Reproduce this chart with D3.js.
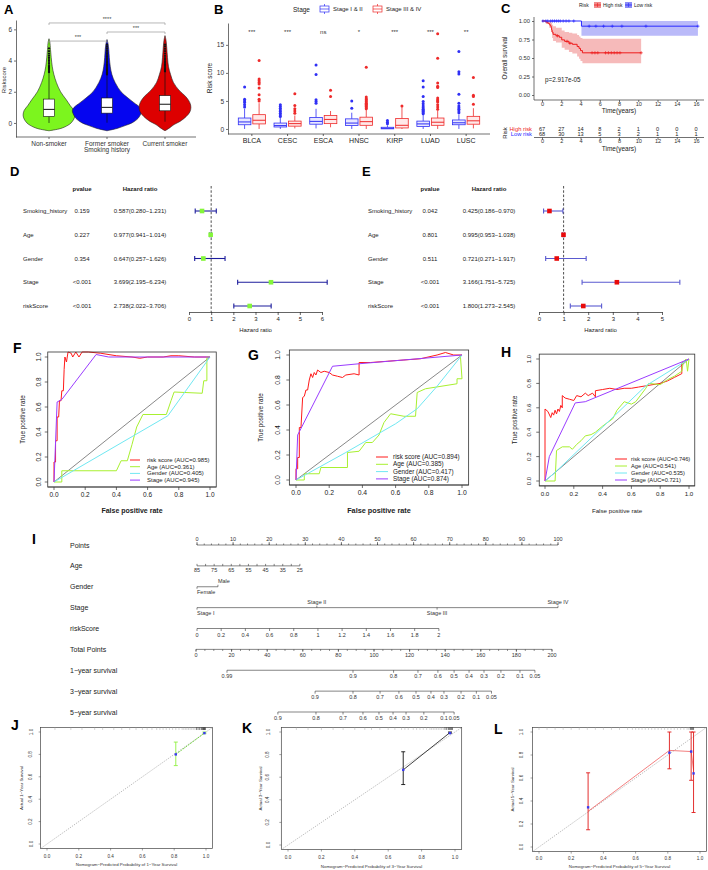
<!DOCTYPE html>
<html><head><meta charset="utf-8">
<script src="https://cdn.jsdelivr.net/npm/d3@7/dist/d3.min.js"></script>
<style>html,body{margin:0;padding:0;background:#fff}svg{display:block;font-family:"Liberation Sans",Arial,Helvetica,sans-serif}</style>
</head><body>
<svg id="fig" width="708" height="870"></svg>
<script>
// ======================= DATA =======================
// ---- A: risk score by smoking history ----
const smokingGroups = ["Non-smoker", "Former smoker", "Current smoker"];
const smokingDensity = [
  [[-0.5,0],[-0.35,0.34],[-0.15,0.54],[0,0.63],[0.25,0.71],[0.5,0.74],[0.8,0.71],[1.1,0.61],[1.5,0.49],[2.0,0.33],[2.6,0.21],[3.1,0.14],[3.6,0.094],[4.2,0.063],[4.7,0.043],[5.2,0.023],[5.4,0]],
  [[-0.5,0],[-0.35,0.29],[-0.15,0.54],[0,0.71],[0.3,0.89],[0.6,0.97],[0.8,0.99],[1.0,0.94],[1.3,0.77],[1.6,0.6],[2.0,0.4],[2.6,0.23],[3.1,0.14],[3.6,0.094],[4.2,0.066],[4.7,0.051],[5.1,0.029],[5.35,0]],
  [[-0.5,0],[-0.3,0.14],[-0.1,0.26],[0.1,0.43],[0.4,0.6],[0.7,0.71],[1.0,0.74],[1.3,0.71],[1.7,0.59],[2.1,0.4],[2.6,0.24],[3.1,0.16],[3.6,0.1],[4.2,0.071],[4.8,0.051],[5.3,0.029],[5.6,0]]
];
const smokingBox = [[0.0,0.42,0.87,1.53,3.2],[0.02,0.63,1.0,1.6,3.05],[0.08,0.78,1.2,1.75,3.25]];
const smokingOutliers = [
  [3.25,3.32,3.4,3.48,3.55,3.62,3.7,3.8,3.9,4.0,4.1,4.2,4.32,4.45,4.6,4.78],
  [3.1,3.15,3.2,3.25,3.3,3.36,3.42,3.5,3.58,3.66,3.75,3.85,3.95,4.05,4.15,4.25,4.35,4.45,4.55,4.65,4.78,4.9,5.02],
  [3.3,3.35,3.42,3.5,3.58,3.66,3.75,3.85,3.95,4.05,4.15,4.3,4.45,4.6,4.75,4.9,5.02]
];
const smokingComparisons = [[0,1,"***",5.25],[1,2,"***",5.83],[0,2,"****",6.41]];
const riskTicksA = [0,2,4,6];

// ---- B: risk score by stage in cancers ----
const cancerTypes = ["BLCA","CESC","ESCA","HNSC","KIRP","LUAD","LUSC"];
const stageLevels = ["Stage I & II","Stage III & IV"];
const stageEarlyBox = [[0,0.75,1.25,1.95,3.6],[0,0.35,0.6,1.05,2.0],[0.1,0.85,1.35,2.05,3.6],[0,0.6,1.05,1.8,2.9],[0,0.02,0.12,0.3,0.65],[0,0.45,0.9,1.4,2.5],[0,0.75,1.1,1.6,2.6]];
const stageLateBox  = [[0,0.9,1.55,2.55,4.6],[0.1,0.5,0.95,1.4,2.4],[0.3,0.95,1.7,2.4,3.2],[0,0.65,1.3,2.1,3.4],[0,0.18,0.65,1.85,3.9],[0,0.65,1.2,1.95,3.3],[0.1,0.85,1.45,2.25,3.7]];
const stageEarlyOut = [[3.9,4.3,4.7,5.0,5.3,7.5],[2.2,2.5,2.8,3.1,3.4,3.7,4.0,4.3],[4.6,4.9,5.2,9.7,11.4],[3.7,5.0],[0.95,1.2,1.5],[2.7,2.9,3.1,3.3,3.5,3.8,4.1,4.5,4.9,5.8,7.5,8.6],[2.9,3.2,3.5,3.8,4.1,4.6,6.2,9.8,10.2,13.8]];
const stageLateOut  = [[5.0,5.3,6.1,7.3,8.0,8.3,8.6,8.9,12.2],[2.8,3.2,3.6,4.2,6.3],[5.8,6.9],[3.6,3.8,4.0,4.2,4.4,4.6,4.8,5.0,5.2,5.4,5.7,11.0],[4.1],[3.5,3.9,4.3,4.8,5.0,5.2,5.5,7.4,7.6,8.2,12.6,17.0],[4.4,5.8,6.0,9.2]];
const stageSig = ["***","***","ns","*","***","***","**"];
const riskTicksB = [0,5,10,15];

// ---- C: Kaplan-Meier ----
const riskGroups = ["High risk","Low risk"];
const highRiskKM = [[0,1],[0.4,0.985],[0.6,0.97],[0.75,0.955],[0.85,0.935],[0.95,0.91],[1.0,0.88],[1.05,0.85],[1.15,0.82],[1.45,0.80],[1.8,0.78],[2.05,0.745],[2.35,0.725],[2.8,0.70],[3.15,0.685],[3.65,0.655],[3.85,0.63],[4.0,0.60],[4.2,0.57],[10.3,0.57]];
const highRiskCI = [[0,1,1],[0.4,0.96,1],[0.75,0.91,1],[0.95,0.85,0.98],[1.05,0.77,0.95],[1.15,0.73,0.93],[1.45,0.71,0.91],[2.05,0.64,0.87],[2.35,0.61,0.85],[2.8,0.58,0.84],[3.15,0.56,0.83],[3.65,0.52,0.81],[3.85,0.49,0.79],[4.0,0.46,0.77],[4.2,0.43,0.76],[10.3,0.43,0.76]];
const lowRiskKM = [[0,1],[4.1,0.93],[16.2,0.93]];
const lowRiskCI = [[0,1,1],[4.1,0.80,1.0],[16.2,0.80,1.0]];
const highRiskCensor = [[1.6,0.80],[2.6,0.725],[2.9,0.70],[5.2,0.57],[5.5,0.57],[5.8,0.57],[6.6,0.57],[6.9,0.57],[7.2,0.57],[7.5,0.57],[7.8,0.57],[8.1,0.57],[10.3,0.57]];
const lowRiskCensor = [[0.1,1],[0.4,1],[0.6,1],[0.9,1],[1.1,1],[1.3,1],[1.5,1],[1.7,1],[1.9,1],[2.2,1],[2.5,1],[2.8,1],[3.3,1],[4.9,0.93],[5.6,0.93],[6.4,0.93],[7.3,0.93],[8.3,0.93],[10.8,0.93],[16.2,0.93]];
const timeTicks = [0,2,4,6,8,10,12,14,16];
const survTicks = [0,0.25,0.5,0.75,1];
const highRiskAtRisk = [67,27,14,8,2,1,0,0,0];
const lowRiskAtRisk  = [68,30,13,5,3,2,1,1,1];
const kmPvalue = "p=2.917e-05";

// ---- D/E: Cox forest plots ----
const coxVars = ["Smoking_history","Age","Gender","Stage","riskScore"];
const uniP = ["0.159","0.227","0.354","<0.001","<0.001"];
const uniHR = [0.587,0.977,0.647,3.699,2.738];
const uniLo = [0.280,0.941,0.257,2.195,2.022];
const uniHi = [1.231,1.014,1.626,6.234,3.706];
const multiP = ["0.042","0.801","0.511","<0.001","<0.001"];
const multiHR = [0.425,0.995,0.721,3.166,1.800];
const multiLo = [0.186,0.953,0.271,1.751,1.273];
const multiHi = [0.970,1.038,1.917,5.725,2.545];
const uniTicks = [0,1,2,3,4,5,6];
const multiTicks = [0,1,2,3,4,5];

// ---- F/G/H: ROC curves ----
const rocLabels = ["risk score","Age","Gender","Stage"];
const rocF = [
  [[0,0],[0,0.16],[0.01,0.16],[0.01,0.33],[0.02,0.33],[0.02,0.52],[0.03,0.52],[0.035,0.65],[0.045,0.65],[0.05,0.73],[0.06,0.73],[0.065,0.9],[0.07,1.0],[0.08,0.96],[0.09,1.04],[0.11,1.03],[0.12,1.0],[0.14,1.04],[0.16,1.0],[0.18,1.04],[0.22,1.04],[0.3,1.03],[0.4,1.01],[0.5,1.0],[0.55,0.99],[0.6,1.0],[0.7,1.0],[0.75,1.01],[0.8,1.01],[0.9,1.0],[1,1]],
  [[0,0],[0.05,0],[0.05,0.09],[0.4,0.09],[0.43,0.17],[0.47,0.17],[0.5,0.3],[0.53,0.44],[0.57,0.54],[0.72,0.54],[0.75,0.65],[0.77,0.72],[0.95,0.71],[0.96,0.81],[0.98,0.81],[0.98,1.0],[1,1]],
  [[0,0],[0.73,0.53],[1,1]],
  [[0,0],[0.02,0.64],[0.05,0.66],[0.27,1.02],[0.35,1.0],[1,1]]
];
const aucF = ["0.985","0.361","0.405","0.945"];
const rocG = [
  [[0,0],[0,0.09],[0.01,0.09],[0.01,0.18],[0.02,0.18],[0.02,0.42],[0.03,0.42],[0.04,0.66],[0.05,0.67],[0.06,0.72],[0.07,0.72],[0.08,0.8],[0.09,0.85],[0.1,0.82],[0.11,0.86],[0.12,0.84],[0.13,0.88],[0.15,0.86],[0.17,0.87],[0.2,0.86],[0.22,0.84],[0.25,0.83],[0.28,0.82],[0.3,0.84],[0.35,0.85],[0.38,0.84],[0.38,0.94],[0.45,0.94],[0.55,0.95],[0.65,0.96],[0.75,0.97],[0.85,1.0],[0.9,1.02],[0.95,1.0],[1,1]],
  [[0,0],[0.05,0],[0.05,0.05],[0.14,0.05],[0.15,0.1],[0.31,0.1],[0.31,0.22],[0.38,0.23],[0.42,0.3],[0.46,0.3],[0.5,0.36],[0.53,0.46],[0.57,0.53],[0.65,0.51],[0.72,0.51],[0.73,0.7],[0.78,0.73],[0.97,0.77],[0.97,0.81],[1,0.81],[0.99,1.0]],
  [[0,0],[0.3,0.22],[0.6,0.45],[0.73,0.57],[0.85,0.75],[1,1]],
  [[0,0],[0.01,0.36],[0.22,0.91],[0.38,0.93],[1,1]]
];
const aucG = ["0.894","0.385","0.417","0.874"];
const rocH = [
  [[0,0],[0,0.59],[0.02,0.57],[0.04,0.52],[0.05,0.56],[0.06,0.54],[0.07,0.58],[0.08,0.55],[0.09,0.59],[0.1,0.57],[0.11,0.62],[0.12,0.6],[0.12,0.7],[0.14,0.68],[0.17,0.67],[0.2,0.66],[0.22,0.7],[0.25,0.69],[0.28,0.72],[0.3,0.7],[0.33,0.72],[0.35,0.69],[0.35,0.74],[0.4,0.75],[0.45,0.76],[0.5,0.75],[0.55,0.76],[0.6,0.76],[0.65,0.77],[0.7,0.78],[0.75,0.79],[0.8,0.8],[0.85,0.82],[0.9,0.85],[0.95,0.88],[0.95,0.97],[0.97,0.98],[1,1]],
  [[0,0],[0.07,0],[0.08,0.25],[0.12,0.28],[0.17,0.28],[0.19,0.26],[0.22,0.3],[0.25,0.33],[0.28,0.37],[0.32,0.38],[0.35,0.4],[0.4,0.45],[0.47,0.51],[0.5,0.58],[0.55,0.65],[0.6,0.63],[0.63,0.65],[0.7,0.76],[0.72,0.8],[0.8,0.79],[0.85,0.83],[0.9,0.86],[0.95,0.9],[0.96,0.97],[0.98,1.0],[0.99,0.9],[1,1]],
  [[0,0],[0.07,0.07],[0.7,0.78],[1,1]],
  [[0,0],[0.03,0.2],[0.21,0.64],[0.28,0.65],[1,1]]
];
const aucH = ["0.746","0.541","0.535","0.721"];
const rocTicks = [0,0.2,0.4,0.6,0.8,1.0];

// ---- I: nomogram ----
const nomoRows = ["Points","Age","Gender","Stage","riskScore","Total Points","1\u2212year survival","3\u2212year survival","5\u2212year survival"];
const pointsTicks = [0,10,20,30,40,50,60,70,80,90,100];
const ageTicks = [85,80,75,70,65,60,55,50,45,40,35,30,25];
const ageLabels = [85,75,65,55,45,35,25];
const ageRange = [85,25], agePoints = [0,28.5];
const genderLevels = ["Female","Male"], genderPoints = [0,5.8];
const stageNomo = ["Stage I","Stage II","Stage III","Stage IV"], stagePoints = [0,33.2,66.5,100];
const riskScoreTicks = [0,0.2,0.4,0.6,0.8,1,1.2,1.4,1.6,1.8,2];
const riskScoreRange = [0,2], riskScorePoints = [0,67];
const totalTicks = [0,20,40,60,80,100,120,140,160,180,200];
const surv1Labels = ["0.99","0.9","0.8","0.7","0.6","0.5","0.4","0.3","0.2","0.1","0.05"];
const surv1Total  = [17.4,88.2,111,124.7,135.9,145,153.4,161.8,171.3,182,190.4];
const surv3Labels = ["0.9","0.8","0.7","0.6","0.5","0.4","0.3","0.2","0.1","0.05"];
const surv3Total  = [66.9,88.2,103.4,114,123.6,132,139.3,148.9,157.5,166];
const surv5Labels = ["0.9","0.8","0.7","0.6","0.5","0.4","0.3","0.2","0.1","0.05"];
const surv5Total  = [46,67.4,82.6,93.8,102.8,110.7,118,128,139.3,145];

// ---- J/K/L: calibration ----
const calibTicks = [0,0.2,0.4,0.6,0.8,1.0];
const calJ = {pred:[0.81,0.99], obs:[0.80,0.99], lo:[0.70,0.985], hi:[0.91,1.0], corr:[0.80,0.99]};
const calK = {pred:[0.69,0.97], obs:[0.665,0.995], lo:[0.535,0.99], hi:[0.825,1.0], corr:[0.665,0.99]};
const calL = {pred:[0.305,0.81,0.945,0.96], obs:[0.31,0.84,0.83,0.67], lo:[0.15,0.68,0.58,0.30], hi:[0.645,1.0,1.0,1.0], corr:[0.345,0.82,0.83,0.64]};
const rugJ = [0.05,0.15,0.22,0.3,0.35,0.42,0.47,0.52,0.56,0.6,0.63,0.66,0.69,0.71,0.73,0.75,0.77,0.79,0.81,0.83,0.85,0.86,0.87,0.88,0.89,0.9,0.91,0.92,0.93,0.94,0.95,0.96,0.97,0.975,0.98,0.983,0.986,0.99,0.993,0.996];
const rugK = [0.05,0.12,0.2,0.27,0.33,0.4,0.46,0.5,0.55,0.6,0.64,0.68,0.7,0.72,0.75,0.77,0.79,0.81,0.83,0.85,0.86,0.87,0.88,0.89,0.9,0.91,0.92,0.93,0.94,0.95,0.96,0.965,0.97,0.975,0.98,0.985];
const rugL = [0.0,0.05,0.1,0.15,0.2,0.25,0.3,0.35,0.4,0.45,0.5,0.55,0.58,0.6,0.62,0.64,0.66,0.68,0.7,0.72,0.74,0.76,0.78,0.8,0.82,0.84,0.86,0.88,0.9,0.92,0.93,0.94,0.945,0.95,0.955,0.96];

// ======================= DRAWING =======================
const svg = d3.select("#fig");
const INK = "#1a1a1a";
function txt(g, x, y, s, o = {}) {
  const t = g.append("text").attr("x", x).attr("y", y).text(s)
    .attr("font-size", o.size || 6).attr("fill", o.fill || INK)
    .attr("text-anchor", o.anchor || "start");
  if (o.bold) t.attr("font-weight", "bold");
  if (o.rot) t.attr("transform", `rotate(${o.rot},${x},${y})`);
  return t;
}
function ln(g, x1, y1, x2, y2, stroke = INK, w = 0.7, dash = null) {
  const l = g.append("line").attr("x1", x1).attr("y1", y1).attr("x2", x2).attr("y2", y2)
    .attr("stroke", stroke).attr("stroke-width", w);
  if (dash) l.attr("stroke-dasharray", dash);
  return l;
}
function styleAxis(sel, size, color = "#333") {
  sel.attr("font-family", null).attr("font-size", null);
  sel.selectAll(".domain").attr("stroke", color).attr("stroke-width", 0.7);
  sel.selectAll(".tick line").attr("stroke", color).attr("stroke-width", 0.7);
  sel.selectAll(".tick text").attr("font-size", size).attr("fill", color);
}
// panel letters
[["A",4,14,13],["B",214,14,13],["C",501,13,13],["D",10,176,13],["E",362,176,13],["F",13,353,14],["G",248,360,14],["H",501,357,14],["I",32,544,14],["J",11,730,14],["K",242,733,14],["L",494,734,14]]
  .forEach(([s,x,y,sz]) => txt(svg, x, y, s, {size: sz, bold: true, fill: "#000"}));

// ---------- Panel A ----------
{
  const g = svg.append("g");
  const x = d3.scaleBand().domain(smokingGroups).range([20, 194]);
  const cx = d => x(d) + x.bandwidth() / 2;
  const y = d3.scaleLinear().domain([-0.9, 6.6]).range([137, 20]);
  const w = d3.scaleLinear().domain([0, 1]).range([0, 35]);
  const fills = ["#7cf51e", "#0505f0", "#dd0000"];
  const ya = g.append("g").attr("transform", "translate(16,0)")
    .call(d3.axisLeft(y).tickValues(riskTicksA).tickSize(2).tickSizeOuter(0).tickPadding(2));
  styleAxis(ya, 6.5);
  const xa = g.append("g").attr("transform", "translate(0,137)")
    .call(d3.axisBottom(x).tickSize(2).tickSizeOuter(0).tickPadding(2));
  xa.select(".domain").remove();
  styleAxis(xa, 6.5);
  ln(g, 16, 137, 196, 137, "#333", 0.7);
  txt(g, 6, 80, "Riskscore", {size: 6, rot: -90, anchor: "middle", fill: "#333"});
  txt(g, cx(smokingGroups[1]), 152, "Smoking history", {size: 6.5, anchor: "middle", fill: "#333"});
  smokingGroups.forEach((grp, i) => {
    const c = cx(grp);
    const area = d3.area().curve(d3.curveCatmullRom).y(d => y(d[0])).x0(d => c - w(d[1])).x1(d => c + w(d[1]));
    g.append("path").attr("d", area(smokingDensity[i])).attr("fill", fills[i]).attr("stroke", "#222").attr("stroke-width", 0.6);
    const [mn, q1, md, q3, mx] = smokingBox[i];
    ln(g, c, y(q3), c, y(mx), "#111", 0.7);
    ln(g, c, y(q1), c, y(mn), "#111", 0.7);
    g.append("rect").attr("x", c - 5.5).attr("width", 11).attr("y", y(q3)).attr("height", y(q1) - y(q3))
      .attr("fill", "#fff").attr("stroke", "#111").attr("stroke-width", 0.6);
    ln(g, c - 5.5, y(md), c + 5.5, y(md), "#111", 1);
    g.selectAll(null).data(smokingOutliers[i]).join("circle")
      .attr("cx", c).attr("cy", d => y(d)).attr("r", 1.1).attr("fill", "#111");
  });
  smokingComparisons.forEach(([a, b, lab, h]) => {
    const x1 = cx(smokingGroups[a]), x2 = cx(smokingGroups[b]), yy = y(h);
    g.append("path").attr("d", `M${x1},${yy + 2}V${yy}H${x2}V${yy + 2}`).attr("fill", "none").attr("stroke", "#999").attr("stroke-width", 0.7);
    txt(g, (x1 + x2) / 2, yy - 2, lab, {size: 5.5, anchor: "middle", fill: "#444"});
  });
}

// ---------- Panel B ----------
{
  const g = svg.append("g");
  const x = d3.scaleBand().domain(cancerTypes).range([234, 484]);
  const dodge = d3.scaleBand().domain(stageLevels).range([-14.5, 14.5]);
  const y = d3.scaleLinear().domain([-0.9, 18.9]).range([134, 23]);
  const cols = ["#2f2ff5", "#ee2a2a"], fillc = ["#e8e8ff", "#ffe8e8"];
  const ya = g.append("g").attr("transform", "translate(228,0)")
    .call(d3.axisLeft(y).tickValues(riskTicksB).tickSize(2).tickSizeOuter(0).tickPadding(2));
  styleAxis(ya, 6.5);
  const xa = g.append("g").attr("transform", "translate(0,134)")
    .call(d3.axisBottom(x).tickSize(2).tickSizeOuter(0).tickPadding(2));
  xa.select(".domain").remove();
  styleAxis(xa, 7, "#222");
  ln(g, 228, 134, 490, 134, "#333", 0.7);
  txt(g, 212, 78, "Risk score", {size: 6.5, rot: -90, anchor: "middle", fill: "#222"});
  const boxes = [stageEarlyBox, stageLateBox], outs = [stageEarlyOut, stageLateOut];
  cancerTypes.forEach((ct, i) => {
    stageLevels.forEach((st, k) => {
      const c = x(ct) + x.bandwidth() / 2 + dodge(st) + dodge.bandwidth() / 2;
      const [mn, q1, md, q3, mx] = boxes[k][i];
      ln(g, c, y(q3), c, y(mx), cols[k], 0.8);
      ln(g, c, y(q1), c, y(mn), cols[k], 0.8);
      g.append("rect").attr("x", c - 6.3).attr("width", 12.6).attr("y", y(q3)).attr("height", Math.max(0.5, y(q1) - y(q3)))
        .attr("fill", fillc[k]).attr("stroke", cols[k]).attr("stroke-width", 0.8);
      ln(g, c - 6.3, y(md), c + 6.3, y(md), cols[k], 1);
      g.selectAll(null).data(outs[k][i]).join("circle")
        .attr("cx", c).attr("cy", d => y(d)).attr("r", 1.5).attr("fill", cols[k]);
    });
    txt(g, x(ct) + x.bandwidth() / 2, y(17.0), stageSig[i], {size: 6, anchor: "middle", fill: "#333"});
  });
  // legend
  txt(g, 293, 11.5, "Stage", {size: 6.5, fill: "#222"});
  [[320, 0], [373, 1]].forEach(([lx, k]) => {
    g.append("rect").attr("x", lx).attr("y", 6).attr("width", 9).attr("height", 6).attr("fill", "#fff").attr("stroke", cols[k]).attr("stroke-width", 0.7);
    ln(g, lx, 9, lx + 9, 9, cols[k], 0.7);
    ln(g, lx + 4.5, 4, lx + 4.5, 6, cols[k], 0.7);
    ln(g, lx + 4.5, 12, lx + 4.5, 14, cols[k], 0.7);
    txt(g, lx + 13, 11.3, stageLevels[k], {size: 6, fill: "#222"});
  });
}

// ---------- Panel C ----------
{
  const g = svg.append("g");
  const x = d3.scaleLinear().domain([0, 16]).range([542, 696]);
  const y = d3.scaleLinear().domain([0, 1]).range([95, 21]);
  const red = "#ee1c1c", blue = "#2a2aff";
  const band = d3.area().curve(d3.curveStepAfter).x(d => x(d[0])).y0(d => y(d[1])).y1(d => y(d[2]));
  g.append("path").attr("d", band(highRiskCI)).attr("fill", "#f08c8c").attr("opacity", 0.6);
  g.append("path").attr("d", band(lowRiskCI)).attr("fill", "#8c8cf5").attr("opacity", 0.6);
  const step = d3.line().curve(d3.curveStepAfter).x(d => x(d[0])).y(d => y(d[1]));
  g.append("path").attr("d", step(lowRiskKM)).attr("fill", "none").attr("stroke", blue).attr("stroke-width", 1);
  g.append("path").attr("d", step(highRiskKM)).attr("fill", "none").attr("stroke", red).attr("stroke-width", 1);
  const cross = (data, col) => data.forEach(([t, s]) => {
    ln(g, x(t) - 1.6, y(s), x(t) + 1.6, y(s), col, 0.7);
    ln(g, x(t), y(s) - 1.6, x(t), y(s) + 1.6, col, 0.7);
  });
  cross(lowRiskCensor, blue); cross(highRiskCensor, red);
  const ya = g.append("g").attr("transform", "translate(534,0)")
    .call(d3.axisLeft(y).tickValues(survTicks).tickFormat(d3.format(".2f")).tickSize(2).tickPadding(2).tickSizeOuter(0));
  styleAxis(ya, 5.8);
  ya.select(".domain").attr("d", "M0,17V100");
  const xa = g.append("g").attr("transform", "translate(0,100)")
    .call(d3.axisBottom(x).tickValues(timeTicks).tickSize(2).tickPadding(0).tickSizeOuter(0));
  styleAxis(xa, 5.6);
  xa.select(".domain").attr("d", "M534,0H704");
  txt(g, 619, 112.5, "Time(years)", {size: 6.5, anchor: "middle", fill: "#222"});
  txt(g, 507, 58, "Overall survival", {size: 6.3, rot: -90, anchor: "middle", fill: "#222"});
  txt(g, 545, 82, kmPvalue, {size: 6.3, fill: "#222"});
  // legend
  txt(g, 579, 7, "Risk", {size: 5, fill: "#222"});
  [[594, red, "#f08c8c", 0], [625, blue, "#8c8cf5", 1]].forEach(([lx, c, f, k]) => {
    g.append("rect").attr("x", lx).attr("y", 2).attr("width", 7).attr("height", 6).attr("fill", f);
    ln(g, lx, 5, lx + 7, 5, c, 0.8);
    ln(g, lx + 3.5, 3, lx + 3.5, 7, c, 0.6);
    txt(g, lx + 9, 7, riskGroups[k], {size: 5, fill: "#222"});
  });
  // risk table
  timeTicks.forEach((t, i) => {
    txt(g, x(t), 130.5, highRiskAtRisk[i], {size: 5.6, anchor: "middle", fill: "#222"});
    txt(g, x(t), 136, lowRiskAtRisk[i], {size: 5.6, anchor: "middle", fill: "#222"});
  });
  txt(g, 532, 130.5, "High risk", {size: 5.8, anchor: "end", fill: red});
  txt(g, 532, 136, "Low risk", {size: 5.8, anchor: "end", fill: blue});
  txt(g, 507, 133, "Risk", {size: 6, rot: -90, anchor: "middle", fill: "#222"});
  const xb = g.append("g").attr("transform", "translate(0,137.5)")
    .call(d3.axisBottom(x).tickValues(timeTicks).tickSize(2).tickPadding(0).tickSizeOuter(0));
  styleAxis(xb, 5.6);
  xb.select(".domain").attr("d", "M534,0H704");
  txt(g, 619, 151, "Time(years)", {size: 6.5, anchor: "middle", fill: "#222"});
}

// ---------- Panels D / E ----------
function forest(cfg) {
  const g = svg.append("g");
  const x = d3.scaleLinear().domain(cfg.domain).range(cfg.range);
  const y = d3.scalePoint().domain(coxVars).range([211, 306]);
  txt(g, cfg.pX, 191, "pvalue", {size: 6, bold: true, anchor: "middle"});
  txt(g, cfg.hrX, 191, "Hazard ratio", {size: 6, bold: true, anchor: "middle"});
  ln(g, x(1), 186, x(1), 312, "#222", 0.8, "2.5,1.8");
  coxVars.forEach((v, i) => {
    const yy = y(v);
    txt(g, cfg.labX, yy + 2, v, {size: 6, fill: "#222"});
    txt(g, cfg.pX, yy + 2, cfg.p[i], {size: 6, anchor: "middle", fill: "#222"});
    txt(g, cfg.hrX, yy + 2, `${cfg.hr[i].toFixed(3)}(${cfg.lo[i].toFixed(3)}\u2212${cfg.hi[i].toFixed(3)})`, {size: 6, anchor: "middle", fill: "#222"});
    ln(g, x(cfg.lo[i]), yy, x(cfg.hi[i]), yy, cfg.lineCol, 1.1);
    ln(g, x(cfg.lo[i]), yy - 2.5, x(cfg.lo[i]), yy + 2.5, cfg.lineCol, 1.1);
    ln(g, x(cfg.hi[i]), yy - 2.5, x(cfg.hi[i]), yy + 2.5, cfg.lineCol, 1.1);
    g.append("rect").attr("x", x(cfg.hr[i]) - 2.3).attr("y", yy - 2.3).attr("width", 4.6).attr("height", 4.6).attr("fill", cfg.boxCol);
  });
  const xa = g.append("g").attr("transform", "translate(0,312)")
    .call(d3.axisBottom(x).tickValues(cfg.ticks).tickFormat(d3.format("d")).tickSize(3).tickPadding(1.5).tickSizeOuter(0));
  styleAxis(xa, 6, "#222");
  txt(g, (cfg.range[0] + cfg.range[1]) / 2, 332, "Hazard ratio", {size: 6, anchor: "middle", fill: "#222"});
}
forest({domain: [0, 6], range: [189, 322], ticks: uniTicks, labX: 23, pX: 82, hrX: 140, p: uniP, hr: uniHR, lo: uniLo, hi: uniHi, lineCol: "#1c1c9c", boxCol: "#84f53a"});
forest({domain: [0, 5], range: [539, 662], ticks: multiTicks, labX: 368, pX: 430, hrX: 489, p: multiP, hr: multiHR, lo: multiLo, hi: multiHi, lineCol: "#5a5ad0", boxCol: "#e80a0a"});

// ---------- Panels F / G / H ----------
function rocPanel(cfg, curves, aucs) {
  const g = svg.append("g");
  const x = d3.scaleLinear().domain([0, 1]).range([cfg.x0, cfg.x1]);
  const y = d3.scaleLinear().domain([0, 1]).range([cfg.y0, cfg.y1]);
  const bx0 = x(-0.04), bx1 = x(1.04), by0 = y(-0.04), by1 = y(1.04);
  const colors = ["#ff1a1a", "#a8f030", "#70e8f2", "#9a3cff"];
  rocTicks.forEach(t => {
    ln(g, x(t), by0, x(t), by0 + 3, "#333", 0.7);
    txt(g, x(t), cfg.xlabY + 2, d3.format(".1f")(t), {size: cfg.tickSize, anchor: "middle", fill: "#222"});
    ln(g, bx0, y(t), bx0 - 3, y(t), "#333", 0.7);
    txt(g, cfg.ylabX + 2, y(t), d3.format(".1f")(t), {size: cfg.tickSize, anchor: "middle", fill: "#222", rot: -90});
  });
  ln(g, bx0, by0, bx1, by0, "#333", 0.7);
  txt(g, cfg.ytitleX + 2, (by0 + by1) / 2, "True positive rate", {size: 6.3, anchor: "middle", fill: "#222", rot: -90});
  txt(g, (bx0 + bx1) / 2, 513, "False positive rate", {size: cfg.titleSize, anchor: "middle", bold: cfg.titleBold, fill: "#222"});
  ln(g, x(0), y(0), x(1), y(1), "#555", 0.7);
  const line = d3.line().x(d => x(d[0])).y(d => y(d[1]));
  curves.forEach((c, i) => g.append("path").attr("d", line(c)).attr("fill", "none").attr("stroke", colors[i]).attr("stroke-width", 1));
  g.append("rect").attr("x", bx0).attr("y", by1).attr("width", bx1 - bx0).attr("height", by0 - by1).attr("fill", "none").attr("stroke", "#333").attr("stroke-width", 0.8);
  rocLabels.forEach((lab, i) => {
    const ly = cfg.legY + i * cfg.legDy;
    ln(g, cfg.legX, ly, cfg.legX + cfg.legLen, ly, colors[i], 1);
    txt(g, cfg.legText, ly + 2, `${lab} (AUC=${aucs[i]})`, {size: cfg.legSize, fill: "#222"});
  });
}
rocPanel({x0: 54, x1: 210, y0: 482, y1: 357, ylabX: 39, ytitleX: 23, xlabY: 495, tickSize: 6.5, titleSize: 7, titleBold: true, legX: 130, legLen: 10, legText: 147, legY: 460, legDy: 6.7, legSize: 6}, rocF, aucF);
rocPanel({x0: 296, x1: 462, y0: 480, y1: 355, ylabX: 278, ytitleX: 261, xlabY: 493, tickSize: 6.8, titleSize: 7.3, titleBold: true, legX: 376, legLen: 12, legText: 393, legY: 457, legDy: 7.3, legSize: 6.4}, rocG, aucG);
rocPanel({x0: 545, x1: 689, y0: 481, y1: 359, ylabX: 529, ytitleX: 515, xlabY: 494, tickSize: 6.2, titleSize: 6.2, titleBold: false, legX: 615, legLen: 12, legText: 631, legY: 459, legDy: 7, legSize: 5.7}, rocH, aucH);

// ---------- Panel I: nomogram ----------
{
  const g = svg.append("g");
  const pts = d3.scaleLinear().domain([0, 100]).range([197, 558]);
  const tot = d3.scaleLinear().domain([0, 200]).range([196, 552]);
  const rowY = d3.scalePoint().domain(nomoRows).range([545, 712]);
  const col = "#333", ts = 5.5;
  nomoRows.forEach(r => txt(g, 70, rowY(r) + 2.5, r, {size: 7, fill: "#222"}));
  const axisLine = (yy, a, b) => ln(g, a, yy, b, yy, col, 0.6);
  const tick = (xx, yy, len) => ln(g, xx, yy, xx, yy + len, col, 0.6);
  // Points
  let yy = rowY("Points");
  axisLine(yy, pts(0), pts(100));
  d3.range(0, 101, 2).forEach(v => tick(pts(v), yy, -1.5));
  pointsTicks.forEach(v => { tick(pts(v), yy, -3); txt(g, pts(v), yy - 4.5, v, {size: ts, anchor: "middle", fill: col}); });
  // Age
  yy = rowY("Age");
  const ageX = d3.scaleLinear().domain(ageRange).range(agePoints);
  axisLine(yy, pts(ageX(85)), pts(ageX(25)));
  ageTicks.forEach(v => tick(pts(ageX(v)), yy, -2));
  ageLabels.forEach(v => txt(g, pts(ageX(v)), yy + 6.5, v, {size: ts, anchor: "middle", fill: col}));
  // Gender
  yy = rowY("Gender");
  axisLine(yy, pts(genderPoints[0]), pts(genderPoints[1]));
  genderLevels.forEach((lv, i) => {
    tick(pts(genderPoints[i]), yy, i ? -2 : 2);
    txt(g, pts(genderPoints[i]), i ? yy - 3.5 : yy + 7, lv, {size: ts, anchor: "start", fill: col});
  });
  // Stage
  yy = rowY("Stage");
  axisLine(yy, pts(stagePoints[0]), pts(stagePoints[3]));
  stageNomo.forEach((lv, i) => {
    const up = i % 2 === 1;
    tick(pts(stagePoints[i]), yy, up ? -2 : 2);
    txt(g, pts(stagePoints[i]), up ? yy - 3.5 : yy + 7, lv, {size: ts, anchor: i === 0 ? "start" : "middle", fill: col});
  });
  // riskScore
  yy = rowY("riskScore");
  const rsX = d3.scaleLinear().domain(riskScoreRange).range(riskScorePoints);
  axisLine(yy, pts(rsX(0)), pts(rsX(2)));
  riskScoreTicks.forEach(v => { tick(pts(rsX(v)), yy, 2.5); txt(g, pts(rsX(v)), yy + 8, v, {size: ts, anchor: "middle", fill: col}); });
  // Total points
  yy = rowY("Total Points");
  axisLine(yy, tot(0), tot(200));
  d3.range(0, 201, 5).forEach(v => tick(tot(v), yy, 1.5));
  totalTicks.forEach(v => { tick(tot(v), yy, 2.5); txt(g, tot(v), yy + 8, v, {size: ts, anchor: "middle", fill: col}); });
  // survival rows
  [[nomoRows[6], surv1Labels, surv1Total], [nomoRows[7], surv3Labels, surv3Total], [nomoRows[8], surv5Labels, surv5Total]].forEach(([r, labs, tp]) => {
    const y0 = rowY(r);
    axisLine(y0, tot(tp[0]), tot(tp[tp.length - 1]));
    tp.forEach((v, i) => { tick(tot(v), y0, 2.5); txt(g, tot(v), y0 + 8, labs[i], {size: ts, anchor: "middle", fill: col}); });
  });
}

// ---------- Panels J / K / L ----------
function calibPanel(cfg, d, rug) {
  const g = svg.append("g");
  const x = d3.scaleLinear().domain([0, 1]).range([cfg.x0, cfg.x1]);
  const y = d3.scaleLinear().domain([0, 1]).range([cfg.y0, cfg.y1]);
  const bx0 = x(-0.04), bx1 = x(1.04), by0 = y(-0.04), by1 = y(1.04);
  g.append("rect").attr("x", bx0).attr("y", by1).attr("width", bx1 - bx0).attr("height", by0 - by1).attr("fill", "none").attr("stroke", "#444").attr("stroke-width", 0.7);
  calibTicks.forEach(t => {
    ln(g, x(t), by0, x(t), by0 + 2, "#444", 0.5);
    txt(g, x(t), cfg.xlabY + 1.5, d3.format(".1f")(t), {size: 4.6, anchor: "middle", fill: "#333"});
    ln(g, bx0, y(t), bx0 - 2, y(t), "#444", 0.5);
    txt(g, cfg.ylabX + 1.5, y(t), d3.format(".1f")(t), {size: 4.6, anchor: "middle", fill: "#333", rot: -90});
  });
  txt(g, (bx0 + bx1) / 2, cfg.titleY + 1.5, `Nomogram\u2212Predicted Probability of ${cfg.yr}\u2212Year Survival`, {size: 4.4, anchor: "middle", fill: "#333"});
  txt(g, cfg.ytitleX + 1.5, (by0 + by1) / 2, `Actual ${cfg.yr}\u2212Year Survival`, {size: 4.4, anchor: "middle", fill: "#333", rot: -90});
  ln(g, bx0, by0, bx1, by1, "#888", 0.6, "1.2,1.2");
  rug.forEach(v => ln(g, x(v), by1, x(v), by1 + 2.5, v > 0.93 ? "#111" : "#aaa", 0.5));
  const line = d3.line().x((p) => x(p[0])).y(p => y(p[1]));
  g.append("path").attr("d", line(d.pred.map((p, i) => [p, d.obs[i]]))).attr("fill", "none").attr("stroke", cfg.lineCol).attr("stroke-width", 0.8).attr("stroke-dasharray", cfg.dash || null);
  d.pred.forEach((p, i) => {
    ln(g, x(p), y(d.lo[i]), x(p), y(d.hi[i]), cfg.barCol, 0.9);
    ln(g, x(p) - 2, y(d.lo[i]), x(p) + 2, y(d.lo[i]), cfg.barCol, 0.9);
    ln(g, x(p) - 2, y(d.hi[i]), x(p) + 2, y(d.hi[i]), cfg.barCol, 0.9);
    g.append("rect").attr("x", x(p) - 1.2).attr("y", y(d.corr[i]) - 1.2).attr("width", 2.4).attr("height", 2.4).attr("fill", "#3a3af0");
  });
}
calibPanel({x0: 47, x1: 206, y0: 844, y1: 732, ylabX: 31, ytitleX: 21, xlabY: 856, titleY: 864, yr: "1", lineCol: "#5ad01e", barCol: "#8ef040", dash: "2,1"}, calJ, rugJ);
calibPanel({x0: 288, x1: 455, y0: 845, y1: 732, ylabX: 268, ytitleX: 260, xlabY: 857, titleY: 866, yr: "3", lineCol: "#111", barCol: "#111"}, calK, rugK);
calibPanel({x0: 539, x1: 700, y0: 847, y1: 732, ylabX: 521, ytitleX: 512, xlabY: 858, titleY: 866, yr: "5", lineCol: "#f06060", barCol: "#e01818"}, calL, rugL);
</script>
</body></html>
